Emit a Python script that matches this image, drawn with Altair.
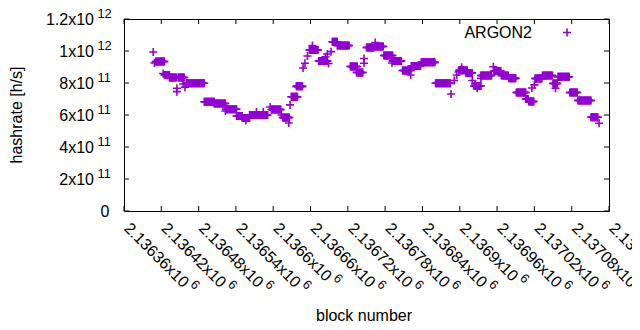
import altair as alt
import pandas as pd

# ---- data (runs of constant hashrate, value in units of 1e11 h/s)
run_start = [2136407, 2136409, 2136411, 2136423, 2136425, 2136433, 2136445, 2136445, 2136447, 2136455,
             2136458, 2136460, 2136489, 2136505, 2136523, 2136524, 2136541, 2136550, 2136556, 2136562,
             2136573, 2136584, 2136595, 2136597, 2136613, 2136615, 2136625, 2136627, 2136629, 2136637,
             2136648, 2136651, 2136655, 2136658, 2136663, 2136673, 2136684, 2136687, 2136689, 2136693,
             2136695, 2136703, 2136724, 2136734, 2136746, 2136746, 2136750, 2136764, 2136764, 2136778,
             2136791, 2136792, 2136808, 2136821, 2136822, 2136838, 2136861, 2136886, 2136891, 2136895,
             2136898, 2136899, 2136903, 2136910, 2136920, 2136925, 2136923, 2136928, 2136934, 2136934,
             2136954, 2136955, 2136967, 2136979, 2136991, 2137006, 2137011, 2137016, 2137020, 2137021,
             2137033, 2137050, 2137054, 2137058, 2137077, 2137090, 2137111, 2137124]
run_end = [2136407, 2136409, 2136425, 2136423, 2136433, 2136444, 2136445, 2136445, 2136457, 2136455,
           2136458, 2136489, 2136505, 2136523, 2136523, 2136541, 2136550, 2136562, 2136556, 2136591,
           2136573, 2136584, 2136595, 2136612, 2136613, 2136626, 2136625, 2136627, 2136639, 2136647,
           2136648, 2136651, 2136655, 2136672, 2136663, 2136687, 2136684, 2136687, 2136689, 2136693,
           2136703, 2136722, 2136735, 2136744, 2136746, 2136746, 2136762, 2136764, 2136777, 2136792,
           2136791, 2136806, 2136821, 2136821, 2136837, 2136860, 2136885, 2136886, 2136891, 2136895,
           2136898, 2136912, 2136903, 2136920, 2136920, 2136925, 2136934, 2136928, 2136934, 2136951,
           2136954, 2136966, 2136978, 2136990, 2137006, 2137010, 2137019, 2137016, 2137020, 2137032,
           2137049, 2137057, 2137054, 2137076, 2137089, 2137111, 2137122, 2137124]
run_rate = [9.94, 9.25, 9.34, 8.59, 8.50, 8.34, 7.67, 7.46, 8.34, 7.94,
            7.73, 7.98, 6.83, 6.72, 6.25, 6.36, 5.94, 5.81, 5.66, 6.00,
            6.19, 6.19, 6.50, 6.34, 6.00, 5.84, 5.50, 6.63, 7.14, 7.79,
            8.94, 9.23, 9.69, 10.06, 10.34, 9.38, 9.64, 9.81, 9.22, 9.96,
            10.58, 10.34, 9.03, 8.66, 9.53, 9.23, 10.22, 10.53, 10.28, 9.72,
            9.25, 9.38, 8.78, 8.50, 9.06, 9.29, 7.98, 7.31, 8.16, 8.50,
            8.69, 8.79, 8.98, 8.63, 8.16, 7.94, 7.81, 7.67, 8.29, 8.47,
            9.02, 8.75, 8.47, 8.29, 7.41, 7.00, 6.84, 7.69, 7.88, 8.28,
            8.47, 7.97, 7.67, 8.39, 7.41, 6.91, 5.86, 5.48]

x_ticks = [2136360, 2136420, 2136480, 2136540, 2136600, 2136660, 2136720,
           2136780, 2136840, 2136900, 2136960, 2137020, 2137080, 2137140]
x_tick_man = ["2.13636x10", "2.13642x10", "2.13648x10", "2.13654x10", "2.1366x10",
              "2.13666x10", "2.13672x10", "2.13678x10", "2.13684x10", "2.1369x10",
              "2.13696x10", "2.13702x10", "2.13708x10", "2.13714x10"]
x_tick_exp = ["6"] * 14

y_ticks = [0, 2e11, 4e11, 6e11, 8e11, 1e12, 1.2e12]
y_tick_man = ["0", "2x10", "4x10", "6x10", "8x10", "1x10", "1.2x10"]
y_tick_exp = ["", "11", "11", "11", "11", "12", "12"]

series_name = "ARGON2"
x_title = "block number"
y_title = "hashrate [h/s]"

# ---- tables
rows = []
for s, e, v in zip(run_start, run_end, run_rate):
    for b in range(s, e + 1):
        rows.append({"block": b, "hashrate": v * 1e11})
pts = pd.DataFrame(rows)
xt = pd.DataFrame({"block": x_ticks, "man": x_tick_man, "exp": x_tick_exp,
                   "short": [len(m) < 10 for m in x_tick_man]})
yt = pd.DataFrame({"v": y_ticks, "man": y_tick_man, "exp": y_tick_exp})

W, H = 485, 192
FONT = "Liberation Sans"
FS = 16
XFS = 16
EFS = 12.8
PURPLE = "#9400D3"
PLUS = "M-1,0L1,0M0,-1L0,1"

xs = alt.Scale(domain=[2136360, 2137140], nice=False, zero=False)
ys = alt.Scale(domain=[0, 1.2e12], nice=False, zero=False)
X = alt.X("block:Q", scale=xs, axis=None)
Y = alt.Y("hashrate:Q", scale=ys, axis=None)
YV = alt.Y("v:Q", scale=ys, axis=None)

points = alt.Chart(pts).mark_point(shape=PLUS, size=64, filled=False, strokeWidth=1.6,
                                   opacity=1, color=PURPLE).encode(x=X, y=Y)

xc = alt.Chart(xt)
xtick_b = xc.mark_rule(color="black", strokeWidth=1).encode(x=X, y=alt.value(H), y2=alt.value(H - 5))
xtick_t = xc.mark_rule(color="black", strokeWidth=1).encode(x=X, y=alt.value(0), y2=alt.value(5))
xlab = xc.mark_text(angle=45, align="left", baseline="middle", font=FONT, fontSize=XFS,
                    dx=4, color="black").encode(x=X, y=alt.value(H + 12), text="man:N")
xexp_long = xc.transform_filter("!datum.short").mark_text(
    angle=45, align="left", baseline="middle", font=FONT, fontSize=EFS,
    dx=4 + 5.226 * XFS + 3, dy=-6.5, color="black").encode(x=X, y=alt.value(H + 12), text="exp:N")
xexp_short = xc.transform_filter("datum.short").mark_text(
    angle=45, align="left", baseline="middle", font=FONT, fontSize=EFS,
    dx=4 + 4.67 * XFS + 3, dy=-6.5, color="black").encode(x=X, y=alt.value(H + 12), text="exp:N")

yc = alt.Chart(yt)
ytick_l = yc.mark_rule(color="black", strokeWidth=1).encode(y=YV, x=alt.value(0), x2=alt.value(5))
ytick_r = yc.mark_rule(color="black", strokeWidth=1).encode(y=YV, x=alt.value(W - 5), x2=alt.value(W))
ylab = yc.transform_filter("datum.exp != ''").mark_text(
    align="right", baseline="middle", font=FONT, fontSize=FS, color="black", dy=1
).encode(y=YV, x=alt.value(-30), text="man:N")
yexp = yc.transform_filter("datum.exp != ''").mark_text(
    align="left", baseline="middle", font=FONT, fontSize=EFS, color="black", dy=-5
).encode(y=YV, x=alt.value(-26.5), text="exp:N")
yzero = yc.transform_filter("datum.exp == ''").mark_text(
    align="right", baseline="middle", font=FONT, fontSize=FS, color="black", dy=1
).encode(y=YV, x=alt.value(-14.5), text="man:N")

xtitle = alt.Chart(pd.DataFrame({"t": [x_title]})).mark_text(
    font=FONT, fontSize=FS, color="black", align="center", baseline="middle"
).encode(x=alt.value(W / 2 - 2.5), y=alt.value(297), text="t:N")
ytitle = alt.Chart(pd.DataFrame({"t": [y_title]})).mark_text(
    font=FONT, fontSize=FS, color="black", align="center", baseline="middle", angle=270
).encode(x=alt.value(-107.5), y=alt.value(96), text="t:N")

leg = pd.DataFrame({"t": [series_name]})
leg_text = alt.Chart(leg).mark_text(font=FONT, fontSize=FS, color="black", align="right",
                                    baseline="middle").encode(
    x=alt.value(408), y=alt.value(13.5), text="t:N")
leg_pt = alt.Chart(leg).mark_point(shape=PLUS, size=64, filled=False, strokeWidth=1.6,
                                   opacity=1, color=PURPLE).encode(
    x=alt.value(443), y=alt.value(13.5))

chart = alt.layer(
    points, xtick_b, xtick_t, ytick_l, ytick_r,
    xlab, xexp_long, xexp_short, ylab, yexp, yzero,
    xtitle, ytitle, leg_text, leg_pt
).properties(
    width=W, height=H,
    autosize=alt.AutoSizeParams(type="none"),
    padding={"left": 116, "top": 11, "right": 23, "bottom": 111},
    background="white",
).configure_view(stroke="black", strokeWidth=1)

chart.save("out.html", embed_options={"renderer": "svg", "actions": False})
